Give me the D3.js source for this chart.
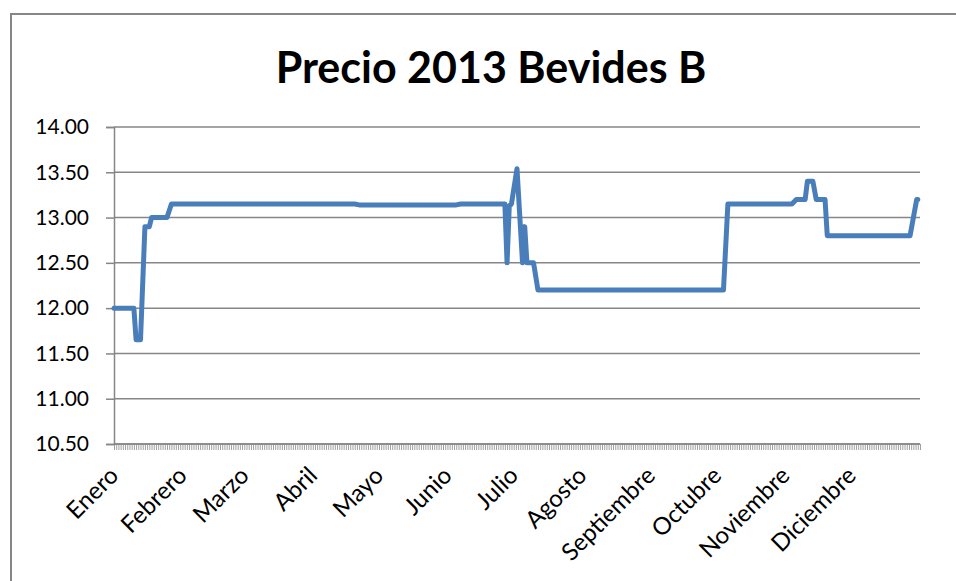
<!DOCTYPE html>
<html>
<head>
<meta charset="utf-8">
<script src="https://cdn.jsdelivr.net/npm/d3@7"></script>
<style>
  body { margin: 0; background: #fff; }
  text { font-family: Lato, "Open Sans", sans-serif; }
</style>
</head>
<body>
<div id="chart"></div>
<script>
// key points of the price line (day of year, price)
var days   = [0, 9, 10, 12, 14, 16, 17, 24, 26, 109, 111, 155, 157, 177, 178, 179, 180, 182.5, 185, 186, 187, 190, 192, 276, 278, 307, 309, 313, 314, 316.5, 318, 322, 323, 360.5, 363.5, 364];
var prices = [12.00, 12.00, 11.65, 11.65, 12.90, 12.90, 13.00, 13.00, 13.15, 13.15, 13.14, 13.14, 13.15, 13.15, 12.50, 13.13, 13.15, 13.54, 12.50, 12.90, 12.50, 12.50, 12.20, 12.20, 13.15, 13.15, 13.20, 13.20, 13.40, 13.40, 13.20, 13.20, 12.80, 12.80, 13.20, 13.20];

var months = ['Enero', 'Febrero', 'Marzo', 'Abril', 'Mayo', 'Junio', 'Julio', 'Agosto', 'Septiembre', 'Octubre', 'Noviembre', 'Diciembre'];
var monthStart = [0, 31, 59, 90, 120, 151, 181, 212, 243, 273, 304, 334];
var yTicks = [10.5, 11, 11.5, 12, 12.5, 13, 13.5, 14];

var width = 956;
var height = 581;
var margin = { top: 127, bottom: 137, left: 114, right: 36 };

var svg = d3.select('#chart')
  .append('svg')
  .attr('width', width)
  .attr('height', height);

// chart border
svg.append('rect')
  .attr('x', 11).attr('y', 14)
  .attr('width', 960).attr('height', 580)
  .attr('fill', 'none')
  .attr('stroke', '#868686')
  .attr('stroke-width', 2);

var x = d3.scaleLinear()
  .domain([0, 365])
  .range([margin.left, width - margin.right]);

var y = d3.scaleLinear()
  .domain([10.5, 14])
  .range([height - margin.bottom, margin.top]);

svg.append('text')
  .attr('x', 491)
  .attr('y', 83)
  .attr('text-anchor', 'middle')
  .attr('font-size', '43px')
  .attr('font-weight', 'bold')
  .text('Precio 2013 Bevides B');

// horizontal gridlines
svg.append('g')
  .selectAll('line')
  .data(yTicks)
  .join('line')
  .attr('x1', x(0))
  .attr('x2', x(365))
  .attr('y1', d => y(d))
  .attr('y2', d => y(d))
  .attr('stroke', '#868686')
  .attr('stroke-width', 1.5);

function yAxis(g) {
  g.attr('transform', `translate(${margin.left}, 0)`)
   .call(d3.axisLeft(y).tickValues(yTicks).tickFormat(d3.format('.2f')).tickSize(8).tickPadding(17))
   .attr('font-size', '21px')
   .attr('font-family', 'Lato, "Open Sans", sans-serif');
  g.selectAll('path, line').attr('stroke', '#868686').attr('stroke-width', 1.5);
  g.selectAll('text').attr('fill', '#000');
}

function xAxis(g) {
  g.attr('transform', `translate(0, ${y(10.5)})`)
   .call(d3.axisBottom(x).tickValues(d3.range(0, 366)).tickSize(6).tickFormat(''))
   .call(g => g.select('.domain').remove());
  g.selectAll('line').attr('stroke', '#a0a0a0').attr('stroke-width', 1);
}

svg.append('g').call(xAxis);
svg.append('line')
  .attr('x1', x(0)).attr('x2', x(365))
  .attr('y1', y(10.5)).attr('y2', y(10.5))
  .attr('stroke', '#868686').attr('stroke-width', 1.5);
svg.append('g').call(yAxis);

// month labels
svg.append('g')
  .selectAll('text')
  .data(months)
  .join('text')
  .attr('transform', (d, i) => `translate(${x(monthStart[i]) + 6}, ${y(10.5) + 33}) rotate(-45)`)
  .attr('text-anchor', 'end')
  .attr('font-size', '24px')
  .text(d => d);

var pts = days.map((d, i) => [d, prices[i]]);

svg.append('path')
  .datum(pts)
  .attr('fill', 'none')
  .attr('stroke', '#4a7ebb')
  .attr('stroke-width', 5)
  .attr('stroke-linejoin', 'round')
  .attr('stroke-linecap', 'round')
  .attr('d', d3.line().x(d => x(d[0])).y(d => y(d[1])));
</script>
</body>
</html>
